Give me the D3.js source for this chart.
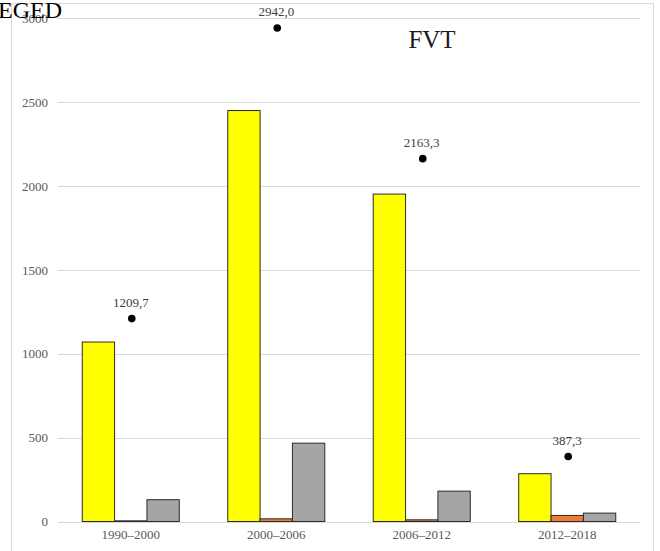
<!DOCTYPE html>
<html><head><meta charset="utf-8">
<script src="https://cdn.jsdelivr.net/npm/d3@7"></script>
<style>body{margin:0;background:#fff}svg{display:block}text{font-family:"Liberation Serif","Times New Roman",serif}</style>
</head><body>
<svg id="c" width="660" height="551"></svg>
<script>
const categories = ["1990–2000","2000–2006","2006–2012","2012–2018"];
const seriesNames = ["s1","s2","s3"];
const seriesColors = ["#FFFF00","#ED7D31","#A5A5A5"];
const s1 = [1070, 2450, 1952, 285];
const s2 = [4, 16, 10, 36];
const s3 = [130, 467, 181, 50];
const totals = [1209.7, 2942.0, 2163.3, 387.3];
const totalLabels = ["1209,7","2942,0","2163,3","387,3"];
const yTicks = [0,500,1000,1500,2000,2500,3000];
const titleText = "FVT";
const cornerText = "EGED";

const svg = d3.select("#c");
const x0 = d3.scaleBand().domain(categories).range([58,640]).paddingInner(0.333).paddingOuter(0.1667);
const x1 = d3.scaleBand().domain(seriesNames).range([0,x0.bandwidth()]);
const y = d3.scaleLinear().domain([0,3000]).range([521.5,18.3]);

// chart border
svg.append("rect").attr("x",11.5).attr("y",3.5).attr("width",642).attr("height",560)
  .attr("fill","none").attr("stroke","#d9d9d9").attr("stroke-width",1);

// gridlines
svg.append("g").selectAll("line").data(yTicks).join("line")
  .attr("x1",58).attr("x2",640).attr("y1",d=>Math.round(y(d))+0.5).attr("y2",d=>Math.round(y(d))+0.5)
  .attr("stroke","#d9d9d9").attr("stroke-width",1);

// y axis labels
const yAxis = d3.axisLeft(y).tickValues(yTicks).tickSize(0).tickPadding(0).tickFormat(d3.format("d"));
const ya = svg.append("g").attr("transform","translate(48,0)").call(yAxis);
ya.select(".domain").remove();
ya.selectAll("text").attr("font-size",13).attr("fill","#595959").attr("font-family","Liberation Serif, serif");

// x axis labels
const xAxis = d3.axisBottom(x0).tickSize(0).tickPadding(0);
const xa = svg.append("g").attr("transform","translate(0,530)").call(xAxis);
xa.select(".domain").remove();
xa.selectAll("text").attr("font-size",13).attr("fill","#595959").attr("font-family","Liberation Serif, serif");

// bars
const data = categories.map((c,i)=>({c, vals:[s1[i],s2[i],s3[i]]}));
const groups = svg.append("g").selectAll("g").data(data).join("g")
  .attr("transform",d=>`translate(${x0(d.c)},0)`);
groups.selectAll("rect").data(d=>d.vals.map((v,j)=>({v,j}))).join("rect")
  .attr("x",d=>x1(seriesNames[d.j]))
  .attr("y",d=>y(d.v))
  .attr("width",x1.bandwidth())
  .attr("height",d=>y(0)-y(d.v))
  .attr("fill",d=>seriesColors[d.j])
  .attr("stroke","#2b2b2b").attr("stroke-width",1);

// total dots
svg.append("g").selectAll("circle").data(totals).join("circle")
  .attr("cx",(d,i)=>x0(categories[i])+x0.bandwidth()/2+1)
  .attr("cy",d=>y(d)).attr("r",3.8).attr("fill","#000");
svg.append("g").selectAll("text").data(totals).join("text")
  .attr("x",(d,i)=>x0(categories[i])+x0.bandwidth()/2)
  .attr("y",d=>y(d)-12)
  .attr("text-anchor","middle").attr("font-size",13).attr("fill","#404040")
  .text((d,i)=>totalLabels[i]);

// title
svg.append("text").attr("x",432).attr("y",48).attr("text-anchor","middle")
  .attr("font-size",25).attr("fill","#1a1a1a").text(titleText);
svg.append("text").attr("x",-2).attr("y",18).attr("text-anchor","start")
  .attr("font-size",24).attr("fill","#000").text(cornerText);
</script>
</body></html>
